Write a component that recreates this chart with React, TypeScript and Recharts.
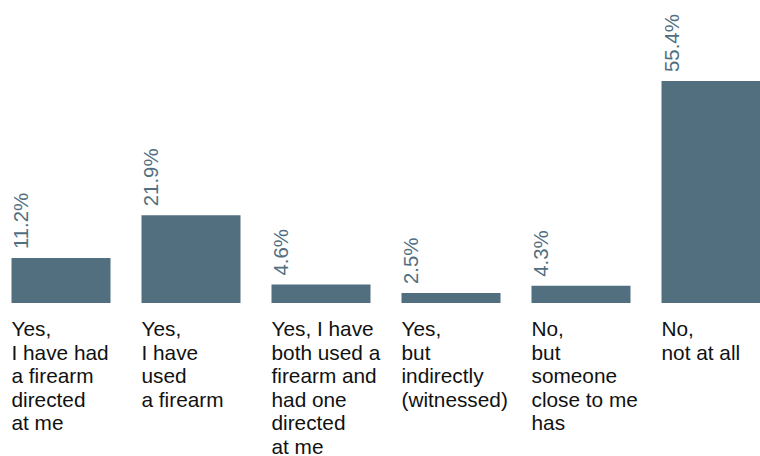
import { BarChart, Bar, XAxis, YAxis, LabelList } from 'recharts';

const categories = ['A', 'B', 'C', 'D', 'E', 'F'];

const categoryLines = [
  ['Yes,', 'I have had', 'a firearm', 'directed', 'at me'],
  ['Yes,', 'I have', 'used', 'a firearm'],
  ['Yes, I have', 'both used a', 'firearm and', 'had one', 'directed', 'at me'],
  ['Yes,', 'but', 'indirectly', '(witnessed)'],
  ['No,', 'but', 'someone', 'close to me', 'has'],
  ['No,', 'not at all'],
];

const values = [11.2, 21.9, 4.6, 2.5, 4.3, 55.4];

const BAR_COLOR = '#516f7f';
const FONT = '"Liberation Sans", Arial, Helvetica, sans-serif';

const data = categories.map((c, i) => ({ category: c, value: values[i], lines: categoryLines[i] }));

function CategoryTick(props: any) {
  const { x, y, index } = props;
  const lines = categoryLines[index] || [];
  return (
    <text x={x - 49.5} y={y} fill="#111" fontSize={20.8} fontFamily={FONT} textAnchor="start">
      {lines.map((line, i) => (
        <tspan key={i} x={x - 49.5} y={y + 33 + i * 23.5}>
          {line}
        </tspan>
      ))}
    </text>
  );
}

function ValueLabel(props: any) {
  const { x, y, value } = props;
  const px = x + 17;
  const py = y - 9;
  return (
    <text
      x={px}
      y={py}
      transform={`rotate(-90, ${px}, ${py})`}
      fill={BAR_COLOR}
      fontSize={20.4}
      fontFamily={FONT}
      textAnchor="start"
    >
      {`${value.toFixed(1)}%`}
    </text>
  );
}

export default function App() {
  return (
    <div style={{ position: 'fixed', left: 0, top: 0, width: 760, height: 456, overflow: 'hidden', background: '#fff' }}>
      <div style={{ position: 'absolute', left: -4.5, top: 0 }}>
        <BarChart
          width={780}
          height={456}
          data={data}
          margin={{ top: 81, right: 0, bottom: 0, left: 0 }}
          barCategoryGap={15.5}
        >
          <XAxis
            dataKey="category"
            axisLine={false}
            tickLine={false}
            tickSize={0}
            tickMargin={0}
            height={153}
            interval={0}
            tick={<CategoryTick />}
          />
          <YAxis hide domain={[0, 55.4]} />
          <Bar dataKey="value" fill={BAR_COLOR} isAnimationActive={false}>
            <LabelList dataKey="value" content={<ValueLabel />} />
          </Bar>
        </BarChart>
      </div>
    </div>
  );
}
